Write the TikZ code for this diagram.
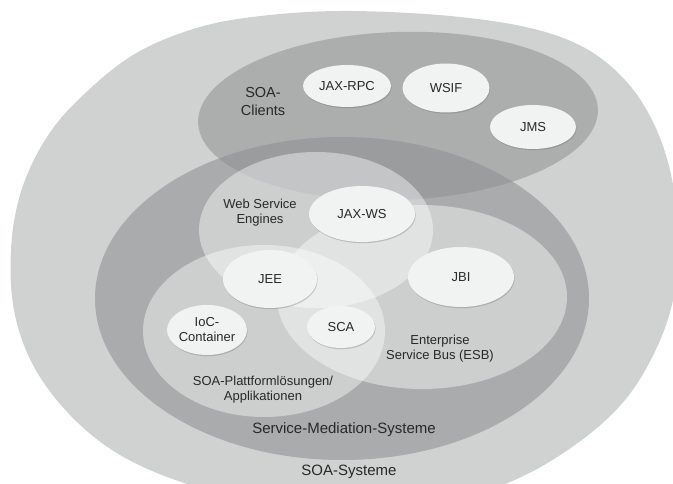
\documentclass[tikz,border=0pt]{standalone}
\usepackage{fontspec}
\setmainfont{Liberation Sans}
\usetikzlibrary{shapes.geometric,shadows}
\definecolor{outerfill}{RGB}{208,210,209}
\definecolor{medfill}{RGB}{169,171,172}
\definecolor{clientfill}{RGB}{144,146,147}
\definecolor{nodefill}{RGB}{241,242,242}
\definecolor{txt}{RGB}{40,40,40}
\tikzset{
 comp/.style={ellipse, fill=nodefill, inner sep=0pt, align=center, text=txt,
   font=\fontsize{13}{15}\selectfont,
   drop shadow={opacity=0.3, shadow xshift=0.6pt, shadow yshift=-1.2pt, fill=black!60}},
 zone/.style={fill=white, fill opacity=0.42},
 lbl/.style={align=center, text=txt, font=\fontsize{13}{15}\selectfont, inner sep=0pt},
 biglbl/.style={lbl, font=\fontsize{15}{18}\selectfont},
}
\begin{document}
\begin{tikzpicture}[x=1pt,y=-1pt]
\useasboundingbox (0,0) rectangle (673,484);
\begin{scope}
\clip (0,0) rectangle (673,484);
\fill[white] (0,0) rectangle (673,484);
\fill[outerfill] plot[smooth cycle, tension=0.6] coordinates {
 (350,11) (450,16) (530,28) (585,48) (625,80) (652,120) (670,170) (678,230)
 (675,290) (658,345) (625,400) (575,445) (510,482) (430,505) (350,512)
 (270,505) (187,484) (120,455) (70,415) (33,365) (14,310) (11,250)
 (20,195) (42,145) (75,103) (133,55) (200,27) (270,15)};
\fill[medfill] (342,298.5) ellipse [x radius=247, y radius=161.5];
\fill[clientfill, fill opacity=0.56, rotate around={2:(398,116)}] (398,116) ellipse [x radius=200, y radius=84];
\fill[zone] (316,230) ellipse [x radius=117, y radius=78];
\fill[zone] (264,331) ellipse [x radius=121, y radius=86];
\fill[zone] (422,297) ellipse [x radius=145, y radius=92];
\end{scope}

\node[comp, minimum width=88pt, minimum height=42pt] (jaxrpc) at (347,86) {JAX-RPC};
\node[comp, minimum width=87pt, minimum height=49pt] (wsif) at (446,88) {WSIF};
\node[comp, minimum width=86pt, minimum height=44pt] (jms) at (533,127) {JMS};
\node[comp, minimum width=106pt, minimum height=56pt] (jaxws) at (362,214) {JAX-WS};
\node[comp, minimum width=94pt, minimum height=58pt] (jee) at (270,279) {JEE};
\node[comp, minimum width=106pt, minimum height=60pt] (jbi) at (461,277) {JBI};
\node[comp, minimum width=80pt, minimum height=50pt] (ioc) at (207,330) {IoC-\\Container};
\node[comp, minimum width=68pt, minimum height=42pt] (sca) at (341,327) {SCA};

\node[lbl, font=\fontsize{14.5}{18}\selectfont] (clientslbl) at (263,102) {SOA-\\Clients};
\node[lbl] (wselbl) at (260,213) {Web Service\\Engines};
\node[lbl] (spalbl) at (263,390) {SOA-Plattformlösungen/\\Applikationen};
\node[lbl] (esblbl) at (440,349) {Enterprise\\Service Bus (ESB)};
\node[biglbl] (smlbl) at (344,430) {Service-Mediation-Systeme};
\node[biglbl] (soalbl) at (349,472) {SOA-Systeme};
\end{tikzpicture}
\end{document}
